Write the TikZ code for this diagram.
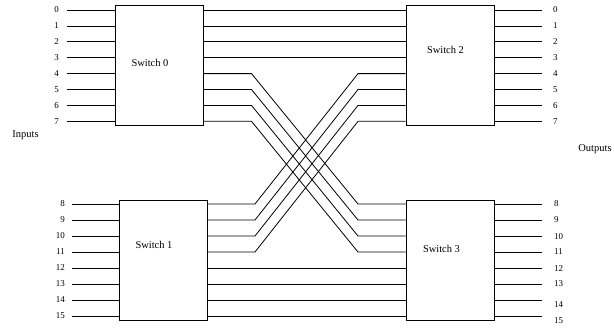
\documentclass[tikz,border=0pt]{standalone}
\usepackage{fontspec}
\setmainfont{Liberation Serif}
\usetikzlibrary{positioning}

\begin{document}
\begin{tikzpicture}[
      x=1bp, y=-1bp,
      switch/.style={draw, line width=0.9bp, minimum width=88bp,
        minimum height=120bp, inner sep=0pt},
      wire/.style={line width=0.8bp},
      num/.style={font=\fontsize{9}{9}\selectfont, inner sep=0pt},
      tag/.style={font=\fontsize{10.5}{12}\selectfont, inner sep=0pt}
    ]
    \useasboundingbox (0,0) rectangle (614,329);

    \node[switch] (sw0) at (159,65) {};
    \node[switch] (sw1) at (163,260.5) {};
    \node[switch] (sw2) at (450,65) {};
    \node[switch] (sw3) at (450,260.5) {};
    \node[tag] (t0) at (150,63) {Switch 0};
    \node[tag] (t1) at (154,245) {Switch 1};
    \node[tag] (t2) at (445.5,50) {Switch 2};
    \node[tag] (t3) at (441.5,249) {Switch 3};
    \node[tag] (inputs) at (25.5,135) {Inputs};
    \node[tag] (outputs) at (595,149) {Outputs};

    % bend columns of the crossing wires
    \coordinate (dn) at (251.5,0);
    \coordinate (up) at (255,0);
    \coordinate (mid) at (358,0);

    % port ends
    \foreach \k in {0,...,7} {
      \coordinate (in\k) at (67,10+15.9*\k);
      \coordinate (out\k) at (542,10+15.9*\k);
    }
    \foreach \k in {8,...,15} {
      \coordinate (in\k) at (72,76+16*\k);
      \coordinate (out\k) at (542,76+16*\k);
    }

    % inputs and outputs
    \foreach \k in {0,...,7} {
      \node[num, left=8bp of in\k] (lin\k) {\k};
      \draw[wire] (in\k) -- (in\k -| sw0.west);
      \node[num, right=11bp of out\k] (lout\k) {\k};
      \draw[wire] (out\k -| sw2.east) -- (out\k);
    }
    \foreach \k/\dy in {8/0,9/0,10/1,11/0,12/1,13/0,14/5,15/5} {
      \node[num, left=7bp of in\k] (lin\k) {\k};
      \draw[wire] (in\k) -- (in\k -| sw1.west);
      \node[num, right=12bp of out\k, yshift=-\dy bp] (lout\k) {\k};
      \draw[wire] (out\k -| sw3.east) -- (out\k);
    }

    % straight links
    \foreach \k in {0,...,3}
      \draw[wire] (in\k -| sw0.east) -- (in\k -| sw2.west);
    \foreach \k in {12,...,15}
      \draw[wire] (in\k -| sw1.east) -- (in\k -| sw3.west);

    % crossing links
    \foreach \a/\b in {4/8,5/9,6/10,7/11} {
      \draw[wire] (in\a -| sw0.east) -- (in\a -| dn) -- (in\b -| mid) -- (in\b -| sw3.west);
      \draw[wire] (in\b -| sw1.east) -- (in\b -| up) -- (in\a -| mid) -- (in\a -| sw2.west);
    }
  \end{tikzpicture}
\end{document}
